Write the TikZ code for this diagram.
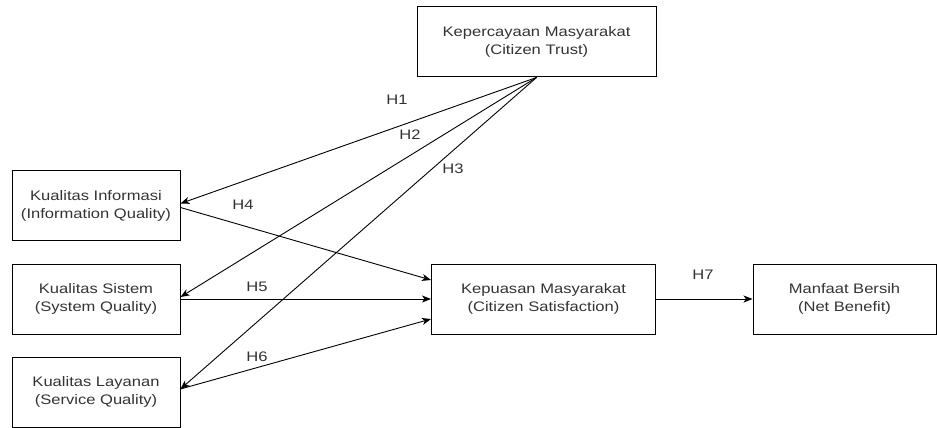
\documentclass[tikz,border=0pt]{standalone}
\usepackage{fontspec}
\setmainfont{Liberation Sans}
\usepackage{graphicx}
\usetikzlibrary{arrows.meta}
\newcommand{\hs}[1]{\scalebox{1.2}[1]{#1}}
\begin{document}
\begin{tikzpicture}[x=1pt,y=-1pt,
  box/.style={draw=black, line width=1pt, minimum height=70pt, align=center,
    inner sep=0pt, text=black!80, font=\fontsize{13.8}{18}\selectfont},
  link/.style={draw=black, line width=0.9pt, -{Stealth[length=9pt,width=7pt,inset=2.5pt]}},
  lab/.style={text=black!80, font=\fontsize{13.8}{16}\selectfont, inner sep=0pt}]
\useasboundingbox (0,0) rectangle (937,428);
\node[box, minimum width=239pt] (top) at (536.5,42) {\hs{Kepercayaan Masyarakat}\\\hs{(Citizen Trust)}};
\node[box, minimum width=168pt] (info) at (96,205.5) {\hs{Kualitas Informasi}\\\hs{(Information Quality)}};
\node[box, minimum width=168pt] (sys) at (96,299) {\hs{Kualitas Sistem}\\\hs{(System Quality)}};
\node[box, minimum width=168pt] (serv) at (96,392) {\hs{Kualitas Layanan}\\\hs{(Service Quality)}};
\node[box, minimum width=224pt, minimum height=70pt] (sat) at (543.5,299) {\hs{Kepuasan Masyarakat}\\\hs{(Citizen Satisfaction)}};
\node[box, minimum width=183pt, minimum height=70pt] (net) at (844.5,299) {\hs{Manfaat Bersih}\\\hs{(Net Benefit)}};
\coordinate (src) at (top.south);
\draw[link] (src) -- ([yshift=2pt]info.east);
\draw[link] (src) -- ([yshift=2pt]sys.east);
\draw[link] (src) -- ([yshift=3pt]serv.east);
\draw[link] ([yshift=-2pt]info.east) -- ([yshift=19pt]sat.west);
\draw[link] (sys.east) -- (sat.west);
\draw[link] ([yshift=3pt]serv.east) -- ([yshift=-20pt]sat.west);
\draw[link] (sat.east) -- (net.west);
\node[lab] (h1) at (397,100) {\hs{H1}};
\node[lab] (h2) at (410,135) {\hs{H2}};
\node[lab] (h3) at (453,169) {\hs{H3}};
\node[lab] (h4) at (243,205) {\hs{H4}};
\node[lab] (h5) at (257,287) {\hs{H5}};
\node[lab] (h6) at (257,357) {\hs{H6}};
\node[lab] (h7) at (703,275) {\hs{H7}};
\end{tikzpicture}
\end{document}
